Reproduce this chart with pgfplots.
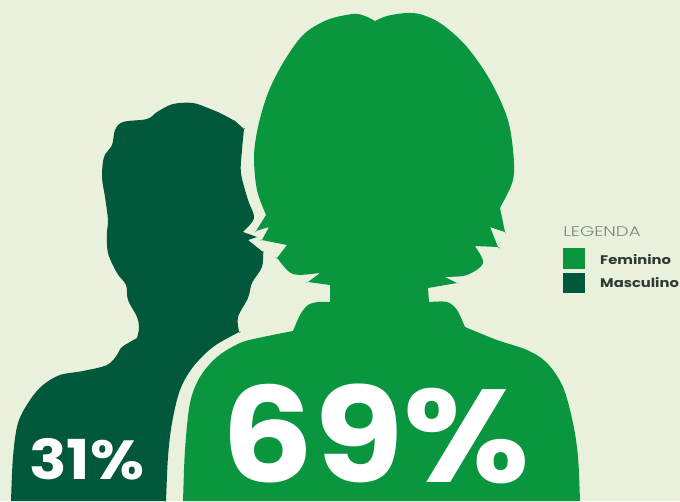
\documentclass[border=0pt]{standalone}
\usepackage{fontspec}
\setmainfont{Poppins}
\newfontfamily\lightfont{Poppins Light}
\usepackage{pgfplots}
\pgfplotsset{compat=1.18}
\definecolor{paper}{HTML}{E9F0DC}
\definecolor{feminino}{HTML}{0A963E}
\definecolor{masculino}{HTML}{02583A}
\definecolor{legendtext}{HTML}{7F867C}
\definecolor{legendlabel}{HTML}{2F3A32}
\begin{document}
\begin{tikzpicture}[x=1pt,y=1pt]
\fill[paper] (0,0) rectangle (680,501);
\path[use as bounding box] (0,0) rectangle (680,501);
\begin{axis}[
  at={(0,0)}, anchor=south west,
  width=680pt, height=501pt, scale only axis,
  xmin=0, xmax=680, ymin=0, ymax=501,
  y dir=reverse, hide axis, clip=true
]
% Male silhouette, 31 %; repeated points keep the hair tips and corners sharp
\addplot[fill=masculino, draw=none, smooth, tension=0.55] coordinates {
(11,501) (11,501) (13,457) (18,423) (30,400) (43,385) (60,375) (83,371) (107,365) (117,355)
(122,347) (137,338) (137,338) (139,328) (137,317) (128,300) (126,285) (117,273) (108,253)
(107,233) (108,220) (105,197) (102,177) (104,157) (112,145) (115,130) (123,122)
(147,119) (157,112) (173,104) (193,103) (208,108) (208,108) (220,113) (235,121) (235,121) (244,129) (244,129) (242,150)
(241,173) (248,200) (254,218) (243,232) (243,232) (257,237) (257,237) (248,240) (248,240) (263,252) (263,252) (262,267)
(252,283) (248,298) (238,317) (239,332) (239,332) (213,347) (193,367) (180,390) (172,423)
(168,457) (166,501) (166,501)
} -- cycle;
% Female silhouette, 69 %
\addplot[fill=feminino, draw=none, smooth, tension=0.55] coordinates {
(183,501) (183,501) (185,450) (190,403) (200,377) (217,357) (240,343) (263,337) (293,331) (293,331)
(300,315) (308,305) (318,302) (330,302) (330,302) (330,285) (330,285) (308,282) (308,282) (320,273) (320,273) (293,274) (277,258) (277,258)
(287,245) (287,245) (262,240) (262,240) (269,227) (269,227) (256,231) (256,231) (266,215) (266,215) (257,190) (254,157) (258,127)
(268,93) (283,63) (303,35) (327,20) (353,14) (365,16) (375,21) (375,21) (387,16) (407,13)
(423,15) (443,25) (467,47) (490,80) (507,117) (513,150) (513,180) (500,208) (500,208)
(505,232) (505,232) (490,227) (490,227) (498,247) (498,247) (475,246) (475,246) (483,263) (467,275) (445,277) (445,277) (457,283) (457,283)
(428,288) (428,288) (429,302) (429,302) (447,302) (457,310) (465,327) (465,327) (497,340) (527,350) (547,363)
(563,387) (573,423) (578,457) (580,501) (580,501)
} -- cycle;
% Legend swatches
\addplot[fill=feminino, draw=none] coordinates {(563,248) (585,248) (585,269) (563,269)} -- cycle;
\addplot[fill=masculino, draw=none] coordinates {(563,273) (585,273) (585,293) (563,293)} -- cycle;
\node[anchor=base west, inner sep=0pt, white, xscale=1.1, font=\fontsize{132}{132}\selectfont\bfseries] at (axis cs:221.5,482) {69\%};
\node[anchor=base west, inner sep=0pt, white, xscale=1.13, font=\fontsize{55}{55}\selectfont\bfseries] at (axis cs:29,479) {31\%};
\node[anchor=base west, inner sep=0pt, legendtext, xscale=1.3, font=\fontsize{14}{14}\selectfont\lightfont] at (axis cs:563,236) {LEGENDA};
\node[anchor=base west, inner sep=0pt, legendlabel, xscale=1.18, font=\fontsize{12.5}{12.5}\selectfont\bfseries] at (axis cs:600,264) {Feminino};
\node[anchor=base west, inner sep=0pt, legendlabel, xscale=1.18, font=\fontsize{12.5}{12.5}\selectfont\bfseries] at (axis cs:600,287) {Masculino};
\end{axis}
\end{tikzpicture}
\end{document}
